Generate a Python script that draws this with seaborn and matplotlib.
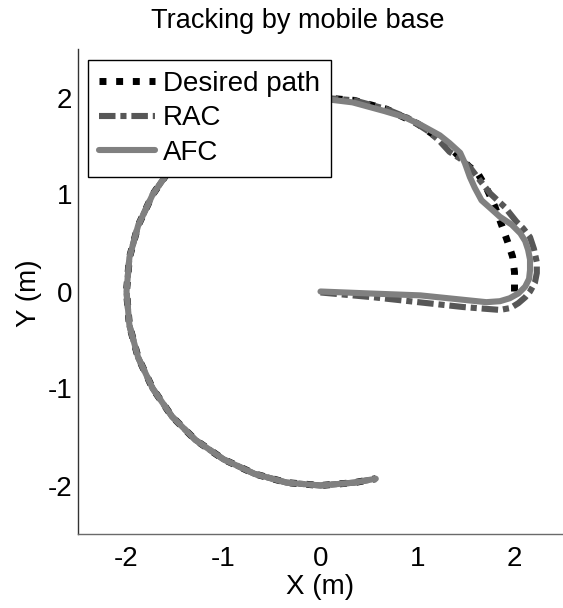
import matplotlib
matplotlib.use("Agg")
import matplotlib.pyplot as plt
import seaborn as sns
import pandas as pd

# Desired circular path (m)
desired_x = [2.00, 2.00, 1.98, 1.93, 1.88, 1.80, 1.71, 1.62, 1.53, 1.29, 1.00, 0.68, 0.35, 0.00,
             -0.35, -0.68, -1.00, -1.29, -1.53, -1.73, -1.88, -1.97, -2.00, -1.97, -1.88,
             -1.73, -1.53, -1.29, -1.00, -0.68, -0.35, 0.00, 0.35, 0.57]
desired_y = [0.00, 0.20, 0.36, 0.51, 0.65, 0.87, 1.07, 1.22, 1.29, 1.53, 1.73, 1.88, 1.97, 2.00,
             1.97, 1.88, 1.73, 1.53, 1.29, 1.00, 0.68, 0.35, 0.00, -0.35, -0.68,
             -1.00, -1.29, -1.53, -1.73, -1.88, -1.97, -2.00, -1.97, -1.93]

# Robust adaptive controller trajectory (m)
rac_x = [0.00, 0.55, 1.10, 1.47, 1.85, 1.96, 2.04, 2.11, 2.16, 2.21, 2.23, 2.23, 2.20, 2.16,
         2.09, 2.02, 1.90, 1.75, 1.64, 1.54, 1.44, 1.33, 1.22, 1.10, 0.90, 0.68, 0.35, 0.00,
         -0.35, -0.68, -1.00, -1.29, -1.53, -1.73, -1.88,
         -1.97, -2.00, -1.97, -1.88, -1.73, -1.53, -1.29, -1.00, -0.68, -0.35, 0.00, 0.35, 0.57]
rac_y = [-0.01, -0.06, -0.12, -0.16, -0.19, -0.17, -0.12, -0.06, 0.00, 0.09, 0.19, 0.30, 0.44, 0.56,
         0.65, 0.72, 0.87, 1.01, 1.15, 1.28, 1.37, 1.44, 1.56, 1.66, 1.79, 1.88, 1.97, 2.00,
         1.97, 1.88, 1.73, 1.53, 1.29, 1.00, 0.68,
         0.35, 0.00, -0.35, -0.68, -1.00, -1.29, -1.53, -1.73, -1.88, -1.97, -2.00, -1.97, -1.93]

# Active force control trajectory (m)
afc_x = [0.00, 0.50, 1.03, 1.71, 1.85, 1.95, 2.04, 2.11, 2.15, 2.16, 2.16, 2.14, 2.11, 2.06,
         1.97, 1.85, 1.75, 1.66, 1.59, 1.54, 1.49, 1.44, 1.33, 1.23, 1.03, 0.86, 0.66, 0.33, 0.00,
         -0.35, -0.68, -1.00, -1.29, -1.53, -1.73, -1.88,
         -1.97, -2.00, -1.97, -1.88, -1.73, -1.53, -1.29, -1.00, -0.68, -0.35, 0.00, 0.35, 0.57]
afc_y = [0.00, -0.02, -0.04, -0.11, -0.10, -0.07, -0.02, 0.05, 0.13, 0.22, 0.33, 0.43, 0.52, 0.60,
         0.69, 0.77, 0.86, 0.94, 1.07, 1.18, 1.32, 1.43, 1.53, 1.61, 1.72, 1.80, 1.86, 1.95, 1.99,
         1.97, 1.88, 1.73, 1.53, 1.29, 1.00, 0.68,
         0.35, 0.00, -0.35, -0.68, -1.00, -1.29, -1.53, -1.73, -1.88, -1.97, -2.00, -1.97, -1.93]

series_labels = ["Desired path", "RAC", "AFC"]
axis_ticks = [-2, -1, 0, 1, 2]

sns.set_style("white")
plt.rcParams["font.family"] = ["Liberation Sans", "DejaVu Sans"]
plt.rcParams["text.color"] = "black"
plt.rcParams["axes.labelcolor"] = "black"

fig = plt.figure(figsize=(5.63, 6.08), dpi=100)
ax = fig.add_axes([78 / 563, 74 / 608, 485 / 563, 485 / 608])

styles = [
    dict(color="black", lw=5.0, linestyle=(0, (1.0, 1.4))),
    dict(color="#575757", lw=4.4, linestyle=(0, (2.7, 0.8, 1.0, 0.8))),
    dict(color="#808080", lw=4.4, linestyle="-"),
]
paths = [(desired_x, desired_y), (rac_x, rac_y), (afc_x, afc_y)]

for (px, py), label, st in zip(paths, series_labels, styles):
    df = pd.DataFrame({"x": px, "y": py})
    sns.lineplot(data=df, x="x", y="y", sort=False, estimator=None, ax=ax,
                 label=label, color=st["color"], linewidth=st["lw"],
                 linestyle=st["linestyle"], dash_capstyle="butt",
                 solid_joinstyle="round")

ax.set_xlim(-2.5, 2.5)
ax.set_ylim(-2.5, 2.5)
ax.set_xticks(axis_ticks)
ax.set_yticks(axis_ticks)
ax.set_xticklabels([str(t) for t in axis_ticks])
ax.set_yticklabels([str(t) for t in axis_ticks])
ax.tick_params(axis="both", direction="in", length=4, width=0.8, labelsize=20,
               color="#333333", labelcolor="black")
ax.tick_params(axis="x", pad=9)
ax.tick_params(axis="y", pad=4)

for side in ("top", "right"):
    ax.spines[side].set_visible(False)
ax.spines["left"].set_color("#333333")
ax.spines["bottom"].set_color("#6a6a6a")
for side in ("left", "bottom"):
    ax.spines[side].set_linewidth(1.0)

ax.set_xlabel("X (m)", fontsize=20, va="center")
ax.set_ylabel("Y (m)", fontsize=20, va="center")
ax.xaxis.set_label_coords(0.5, -0.109)
ax.yaxis.set_label_coords(-0.1, 0.497)

fig.text(298 / 563, 1 - 21 / 608, "Tracking by mobile base", fontsize=19.5,
         ha="center", va="center")

leg = ax.legend(loc="upper left", bbox_to_anchor=(10 / 485, 1 - 11 / 485),
                borderaxespad=0, fontsize=20, frameon=True, fancybox=False,
                handlelength=2.0, handletextpad=0.3, labelspacing=0.3,
                borderpad=0.4)
leg.get_frame().set_edgecolor("black")
leg.get_frame().set_linewidth(1.0)
leg.get_frame().set_alpha(1.0)

fig.savefig("out.png", dpi=100)
